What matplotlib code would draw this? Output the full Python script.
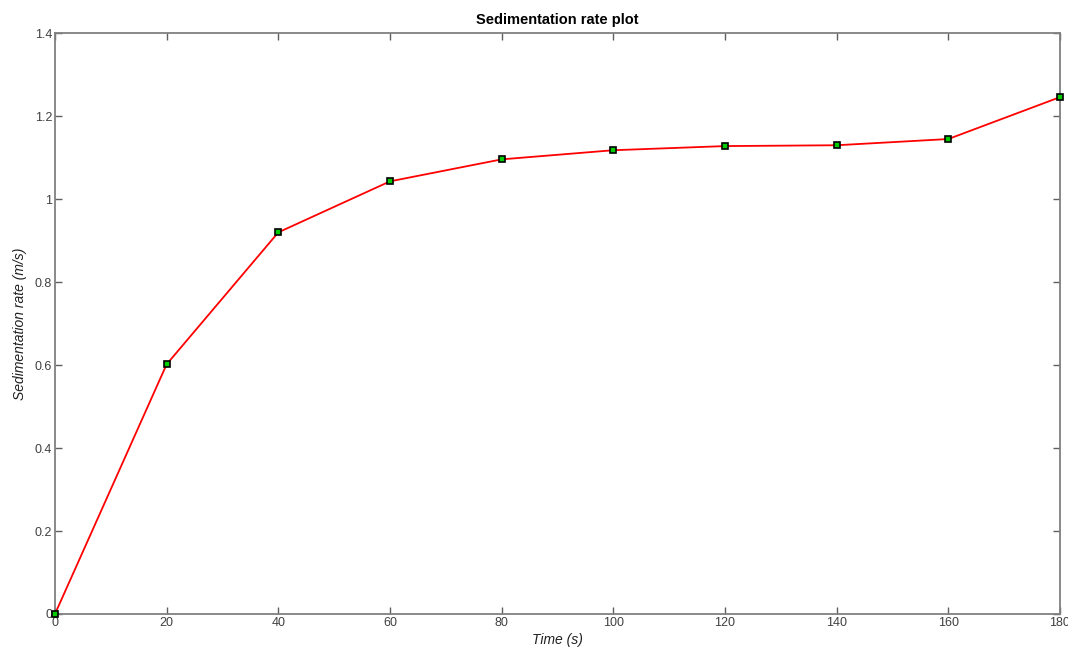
import matplotlib
matplotlib.use("Agg")
import matplotlib.pyplot as plt

plt.rcParams['font.family'] = ['Liberation Sans', 'DejaVu Sans']

# data
time_s = [0, 20, 40, 60, 80, 100, 120, 140, 160, 180]
rate = [0.0, 0.602, 0.920, 1.043, 1.096, 1.118, 1.128, 1.130, 1.145, 1.246]
x_ticks = [0, 20, 40, 60, 80, 100, 120, 140, 160, 180]
y_ticks = [0, 0.2, 0.4, 0.6, 0.8, 1.0, 1.2, 1.4]
y_labels = ['0', '0.2', '0.4', '0.6', '0.8', '1', '1.2', '1.4']

fig = plt.figure(figsize=(10.68, 6.52), dpi=100)
ax = fig.add_axes([0.0515, 0.0583, 0.941, 0.8907])

ax.plot(time_s, rate, color='red', lw=1.3, marker='s', markersize=5,
        markerfacecolor='#00cc00', markeredgecolor='black', markeredgewidth=1.2,
        clip_on=False, zorder=3)

ax.set_xlim(0, 180)
ax.set_ylim(0, 1.4)
ax.set_xticks(x_ticks)
ax.set_xticklabels([str(t) for t in x_ticks])
ax.set_yticks(y_ticks)
ax.set_yticklabels(y_labels)

for sp in ax.spines.values():
    sp.set_color('#808080')
    sp.set_linewidth(1.3)
ax.tick_params(direction='in', top=True, right=True, length=5, width=1,
               color='#606060', labelsize=9, labelcolor='#404040', pad=2)

ax.set_title('Sedimentation rate plot', fontsize=10.5, fontweight='bold', pad=7)
ax.set_xlabel('Time (s)', fontsize=10, style='italic', labelpad=3, color='#202020')
ax.set_ylabel('Sedimentation rate (m/s)', fontsize=10, style='italic', labelpad=6, color='#202020')

fig.savefig('out.png', dpi=100)
